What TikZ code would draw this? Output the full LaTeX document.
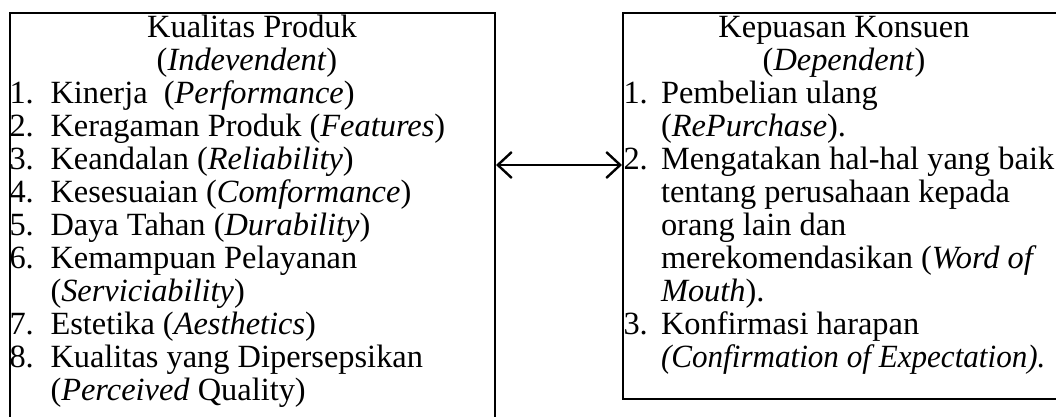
\documentclass[tikz,border=0pt]{standalone}
\usepackage{fontspec}
\usepackage{graphicx}
\setmainfont{Liberation Serif}
\usetikzlibrary{arrows.meta}
\tikzset{
  boxframe/.style={draw=black, line width=2pt, inner sep=0pt, fill=none},
  txt/.style={anchor=base west, inner sep=0pt, outer sep=0pt, font=\fontsize{32.4}{33}\selectfont},
  ctxt/.style={anchor=base, inner sep=0pt, outer sep=0pt, font=\fontsize{32.4}{33}\selectfont},
  dblarrow/.style={line width=2.4pt, {Straight Barb[length=14pt,width=26pt]}-{Straight Barb[length=14pt,width=26pt]}}
}
\begin{document}
\begin{tikzpicture}[x=1pt,y=-1pt]
\useasboundingbox (0,0) rectangle (1056,416);
\clip (0,0) rectangle (1056,416);
\fill[white] (0,0) rectangle (1056,416);
% boxes
\node[boxframe, anchor=north west, minimum width=485pt, minimum height=430pt] (L) at (9,12) {};
\node[boxframe, anchor=north west, minimum width=460pt, minimum height=386pt] (R) at (622,12) {};
% left text
\node[ctxt] (lt) at (252,37) {Kualitas Produk};
\node[ctxt] (ls) at (247,70) {(\textit{Indevendent})};
\node[txt] (ln1) at (9.5,103) {1.};
\node[txt] (li1) at (50.5,103) {Kinerja\ \ (\textit{Performance})};
\node[txt] (ln2) at (9.5,136) {2.};
\node[txt] (li2) at (50.5,136) {Keragaman Produk (\textit{Features})};
\node[txt] (ln3) at (9.5,169) {3.};
\node[txt] (li3) at (50.5,169) {Keandalan (\textit{Reliability})};
\node[txt] (ln4) at (9.5,202) {4.};
\node[txt] (li4) at (50.5,202) {Kesesuaian (\textit{Comformance})};
\node[txt] (ln5) at (9.5,235) {5.};
\node[txt] (li5) at (50.5,235) {Daya Tahan (\textit{Durability})};
\node[txt] (ln6) at (9.5,268) {6.};
\node[txt] (li6) at (50.5,268) {Kemampuan Pelayanan};
\node[txt] (li6b) at (50.5,301) {(\textit{Serviciability})};
\node[txt] (ln7) at (9.5,334) {7.};
\node[txt] (li7) at (50.5,334) {Estetika (\textit{Aesthetics})};
\node[txt] (ln8) at (9.5,367) {8.};
\node[txt] (li8) at (50.5,367) {Kualitas yang Dipersepsikan};
\node[txt] (li8b) at (50.5,400) {(\textit{Perceived} Quality)};
% right text
\node[ctxt] (rt) at (844,37) {Kepuasan Konsuen};
\node[ctxt] (rs) at (844,70) {(\textit{Dependent})};
\node[txt] (rn1) at (623.5,103) {1.};
\node[txt] (ri1) at (661,103) {Pembelian ulang};
\node[txt] (ri1b) at (661,136) {(\textit{RePurchase}).};
\node[txt] (rn2) at (623.5,169) {2.};
\node[txt] (ri2) at (661,169) {Mengatakan hal-hal yang baik};
\node[txt] (ri2b) at (661,202) {tentang perusahaan kepada};
\node[txt] (ri2c) at (661,235) {orang lain dan};
\node[txt] (ri2d) at (661,268) {merekomendasikan (\textit{Word of}};
\node[txt] (ri2e) at (661,301) {\textit{Mouth}).};
\node[txt] (rn3) at (623.5,334) {3.};
\node[txt] (ri3) at (661,334) {Konfirmasi harapan};
\node[txt] (ri3b) at (661,367) {\scalebox{0.96}[1]{\textit{(Confirmation of Expectation).}}};
% connector
\coordinate (ay) at (0,165);
\draw[dblarrow] (ay -| L.east) -- (ay -| R.west);
\end{tikzpicture}
\end{document}
